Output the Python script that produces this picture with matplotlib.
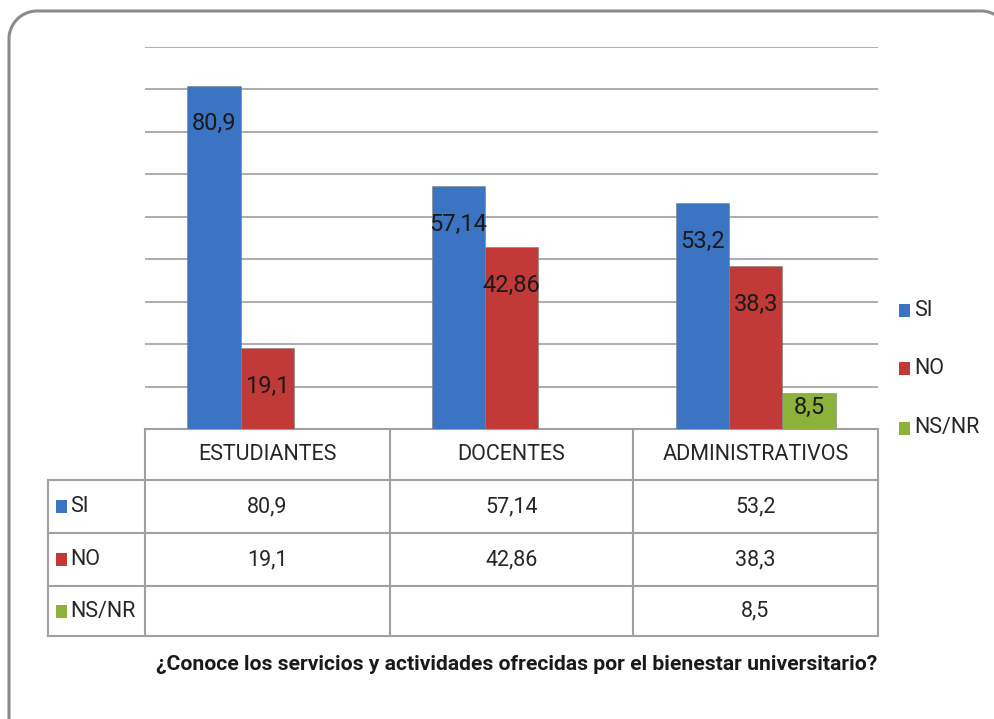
import matplotlib.pyplot as plt
import numpy as np
from matplotlib.patches import Rectangle

plt.rcParams["font.family"] = ["Roboto", "DejaVu Sans"]

categories = ["ESTUDIANTES", "DOCENTES", "ADMINISTRATIVOS"]
series = ["SI", "NO", "NS/NR"]
si = [80.9, 57.14, 53.2]
no = [19.1, 42.86, 38.3]
nsnr = [None, None, 8.5]
labels_si = ["80,9", "57,14", "53,2"]
labels_no = ["19,1", "42,86", "38,3"]
labels_nsnr = ["", "", "8,5"]
colors = ["#3b74c2", "#c23a38", "#8cb23c"]
title = "¿Conoce los servicios y actividades ofrecidas por el bienestar universitario?"

W, H = 995, 719
fig = plt.figure(figsize=(W / 100, H / 100), dpi=100)


def fx(px):
    return px / W


def fy(py):
    return 1 - py / H


# overlay in pixel coordinates (y down) for frame, table, legend and title
bg = fig.add_axes([0, 0, 1, 1], zorder=0)
bg.set_xlim(0, W)
bg.set_ylim(H, 0)
bg.axis("off")

# rounded frame (right and bottom sides run off the image)
fc = "#8c8c8c"
r = 28
left, top, right, bottom = 9, 11, 1009, 740
t = np.linspace(0, np.pi / 2, 40)
arc_x = np.concatenate([left + r - r * np.cos(t),
                        right - r + r * np.sin(t)])
arc_y = np.concatenate([top + r - r * np.sin(t),
                        top + r - r * np.cos(t)])
bg.plot(np.concatenate([[left], arc_x[:40], arc_x[40:], [right]]),
        np.concatenate([[bottom], arc_y[:40], arc_y[40:], [bottom]]),
        color=fc, lw=2.2, solid_capstyle="round")

# bar axes
ax = fig.add_axes([fx(145), fy(429), fx(878) - fx(145), fy(47) - fy(429)],
                  zorder=1)
ax.patch.set_alpha(0)
ax.set_xlim(0, 3)
ax.set_ylim(0, 90)
for v in range(10, 91, 10):
    ax.axhline(v, color="#a6a6a6", linewidth=1.3, zorder=0)
for s in ax.spines.values():
    s.set_visible(False)
ax.set_xticks([])
ax.set_yticks([])

x = np.arange(3) + 0.5
w = 0.218
data = [si, no, nsnr]
labs = [labels_si, labels_no, labels_nsnr]
for i, (vals, lab) in enumerate(zip(data, labs)):
    for j, v in enumerate(vals):
        if v is None:
            continue
        xc = x[j] + (i - 1) * w
        ax.bar(xc, v, width=w, color=colors[i], edgecolor="#7f7f7f",
               linewidth=0.4, zorder=2)
        ty = v - 9 if v > 15 else v - 3.5
        ax.text(xc, ty, lab[j], ha="center", va="center", fontsize=17,
                color="#1a1a1a", zorder=3)

# data table
lc = "#a0a0a0"
cols = [145, 390, 633, 878]
rows = [429, 480, 533, 586, 636]
bg.plot([145, 878], [429, 429], color=lc, lw=1.5)
for rr in rows[1:]:
    bg.plot([48, 878], [rr, rr], color=lc, lw=1.5)
bg.plot([48, 48], [480, 636], color=lc, lw=1.5)
for c in cols:
    bg.plot([c, c], [429, 636], color=lc, lw=1.5)

for j, cat in enumerate(categories):
    cx = (cols[j] + cols[j + 1]) / 2
    bg.text(cx, 455, cat, ha="center", va="center", fontsize=15.5,
            color="#262626")
    for i, lab in enumerate(labs):
        cy = (rows[i + 1] + rows[i + 2]) / 2
        bg.text(cx, cy, lab[j], ha="center", va="center", fontsize=15.5,
                color="#262626")

for i, name in enumerate(series):
    cy = (rows[i + 1] + rows[i + 2]) / 2
    bg.add_patch(Rectangle((56, cy - 6.5), 11, 13, facecolor=colors[i],
                           edgecolor="none"))
    bg.text(70, cy, name, ha="left", va="center", fontsize=15.5,
            color="#262626")

# legend
for i, (name, ly) in enumerate(zip(series, [310, 368, 428])):
    bg.add_patch(Rectangle((899, ly - 6.5), 11, 13, facecolor=colors[i],
                           edgecolor="none"))
    bg.text(914, ly, name, ha="left", va="center", fontsize=15.5,
            color="#262626")

bg.text(517, 665, title, ha="center", va="center", fontsize=15.2,
        fontweight="bold", color="#1a1a1a")

plt.savefig("out.png", dpi=100)
plt.close()
